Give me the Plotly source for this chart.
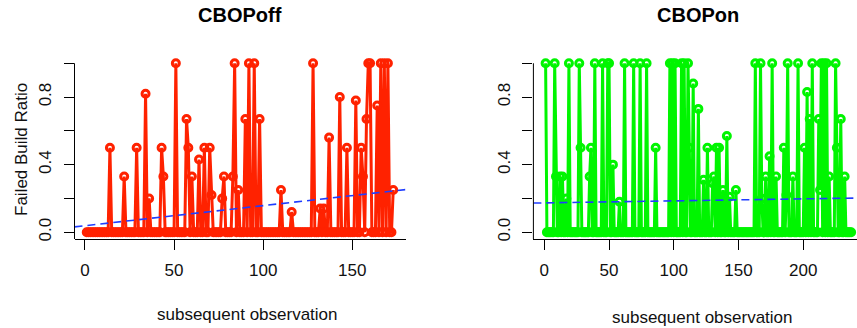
import numpy as np
import plotly.graph_objects as go

# ---------------- data ----------------
panel_titles = ["CBOPoff", "CBOPon"]
y_label = "Failed Build Ratio"
x_label = "subsequent observation"

# CBOPoff: observations 1..173
cbop_off = [
    0, 0, 0, 0, 0, 0, 0, 0, 0, 0,            # 1-10
    0, 0, 0, 0.5, 0, 0, 0, 0, 0, 0,          # 11-20
    0, 0.33, 0, 0, 0, 0, 0, 0, 0.5, 0,       # 21-30
    0, 0, 0, 0.82, 0, 0.2, 0, 0, 0, 0,       # 31-40
    0, 0, 0.5, 0.33, 0, 0, 0, 0, 0, 0,       # 41-50
    1.0, 0, 0, 0, 0, 0, 0.67, 0.5, 0, 0.33,  # 51-60
    0, 0, 0, 0.43, 0, 0, 0.5, 0, 0, 0.5,     # 61-70
    0.22, 0, 0, 0, 0, 0, 0.2, 0.33, 0, 0,    # 71-80
    0, 0, 0.33, 1.0, 0, 0.25, 0, 0, 0, 0.67, # 81-90
    0, 1.0, 0, 0, 1.0, 0, 0, 0.67, 0, 0,     # 91-100
    0, 0, 0, 0, 0, 0, 0, 0, 0, 0.25,         # 101-110
    0, 0, 0, 0, 0, 0.12, 0, 0, 0, 0,         # 111-120
    0, 0, 0, 0, 0, 0, 0, 1.0, 0, 0,          # 121-130
    0, 0.14, 0, 0.14, 0, 0, 0.56, 0, 0, 0,   # 131-140
    0, 0, 0.8, 0, 0, 0, 0.5, 0, 0, 0,        # 141-150
    0, 0.78, 0, 0, 0.5, 0.33, 0, 0.67, 1.0, 1.0,  # 151-160
    0, 0, 0, 0.75, 0, 1.0, 0, 1.0, 0, 1.0,   # 161-170
    0, 0, 0.25,                              # 171-173
]

# CBOPon: observations 1..237
cbop_on = [
    1.0, 0, 0, 0, 0, 0, 0, 1.0, 0.33, 0,     # 1-10
    0, 0.33, 0, 0.33, 0, 0, 0.2, 0, 1.0, 0,  # 11-20
    0, 0, 0, 0, 0, 0, 1.0, 0.5, 0, 0,        # 21-30
    0, 0, 0, 0, 0.33, 0.5, 0, 0, 1.0, 0,     # 31-40
    0, 0, 0, 0, 1.0, 0, 0, 0, 1.0, 1.0,      # 41-50
    0, 0, 0.4, 0, 0, 0, 0, 0.18, 0, 0,       # 51-60
    0, 1.0, 0, 0, 0, 0, 0, 0, 1.0, 0,        # 61-70
    0, 0, 0, 1.0, 0, 0, 0, 0, 1.0, 0,        # 71-80
    0, 0, 0, 0, 0, 0.5, 0, 0, 0, 0,          # 81-90
    0, 0, 0, 0, 0, 0, 1.0, 0, 1.0, 0,        # 91-100
    1.0, 0, 0, 0, 0, 1.0, 0, 1.0, 0, 0,      # 101-110
    1.0, 0.5, 0, 0, 0.88, 0, 0, 0, 0.73, 0,  # 111-120
    0, 0, 0.31, 0, 0, 0.5, 0, 0, 0, 0.29,    # 121-130
    0.33, 0, 0.5, 0, 0.5, 0, 0, 0.25, 0, 0,  # 131-140
    0.57, 0, 0.21, 0, 0, 0, 0, 0.25, 0, 0,   # 141-150
    0, 0, 0, 0, 0, 0, 0, 0, 0, 0,            # 151-160
    0, 0, 1.0, 0, 0, 0, 1.0, 0.2, 0, 0,      # 161-170
    0.33, 0, 0, 0.45, 0, 1.0, 0, 0, 0.33, 0, # 171-180
    0, 0, 0, 0, 0.5, 0, 0.22, 1.0, 0, 0,     # 181-190
    0, 0.33, 0, 0, 0, 1.0, 0, 0, 0, 0,       # 191-200
    0.5, 0, 0.83, 0, 0.67, 0, 1.0, 0, 0, 0,  # 201-210
    0, 0.67, 0.25, 1.0, 0, 1.0, 0, 1.0, 0, 0.33,  # 211-220
    0, 0, 0, 0, 1.0, 0.5, 0, 0, 0.67, 0,     # 221-230
    0, 0.33, 0, 0, 0, 0, 0,                  # 231-237
]

x_ticks_off = [0, 50, 100, 150]
x_ticks_on = [0, 50, 100, 150, 200]
y_tick_vals = [0, 0.2, 0.4, 0.6, 0.8, 1.0]
y_tick_text = ["0.0", "", "0.4", "", "0.8", ""]

# ---------------- styling ----------------
W, H = 857, 328
FONT = "Liberation Sans, Arial, Helvetica, sans-serif"
RED = "#ff2200"
GREEN = "#00f500"
BLUE = "#1f3dff"

def r_range(n):
    # R's default 4% extension of the data range
    lo, hi = 1, n
    pad = 0.04 * (hi - lo)
    return [lo - pad, hi + pad]

off_x = np.arange(1, len(cbop_off) + 1)
on_x = np.arange(1, len(cbop_on) + 1)

off_range = r_range(len(cbop_off))
on_full = r_range(len(cbop_on))
# the right panel is cut by the figure's right edge
on_dom = [533.4 / W, 1.0]
on_px_per_unit = 1.2945
on_range = [on_full[0], on_full[0] + (W - 533.4) / on_px_per_unit]
off_dom = [74.5 / W, 405.5 / W]
y_dom = [(H - 239) / H, (H - 56.5) / H]
y_range = [-0.04, 1.04]

fig = go.Figure()

def add_series(x, y, color, xa, ya):
    fig.add_trace(go.Scatter(
        x=x, y=y, mode="lines+markers", xaxis=xa, yaxis=ya,
        line=dict(color=color, width=3),
        marker=dict(symbol="circle-open", size=7, color=color,
                    line=dict(color=color, width=3)),
        showlegend=False, hoverinfo="x+y", cliponaxis=False,
    ))
    # least-squares trend line, drawn across the whole plot region
    slope, intercept = np.polyfit(x, y, 1)
    rng = off_range if xa == "x" else on_range
    xs = np.array(rng)
    fig.add_trace(go.Scatter(
        x=xs, y=intercept + slope * xs, mode="lines", xaxis=xa, yaxis=ya,
        line=dict(color=BLUE, width=1.6, dash="8px,5px"),
        showlegend=False, hoverinfo="skip",
    ))

add_series(off_x, cbop_off, RED, "x", "y")
add_series(on_x, cbop_on, GREEN, "x2", "y2")

axis_common = dict(
    showgrid=False, zeroline=False, ticks="outside", ticklen=10,
    tickwidth=1, tickcolor="black", automargin=False,
    tickfont=dict(family=FONT, size=17, color="#111"),
)

fig.update_layout(
    width=W, height=H,
    margin=dict(l=0, r=0, t=0, b=0, autoexpand=False),
    paper_bgcolor="white", plot_bgcolor="white",
    font=dict(family=FONT, color="black"),
    xaxis=dict(domain=off_dom, range=off_range, tickvals=x_ticks_off,
               showline=True, linecolor="black", linewidth=1,
               anchor="y", ticklabelstandoff=6, **axis_common),
    yaxis=dict(domain=y_dom, range=y_range, tickvals=y_tick_vals,
               ticktext=y_tick_text, tickangle=-90, showline=False,
               anchor="x", ticklabelstandoff=6, **axis_common),
    xaxis2=dict(domain=on_dom, range=on_range, tickvals=x_ticks_on,
                showline=True, linecolor="black", linewidth=1,
                anchor="y2", ticklabelstandoff=6, **axis_common),
    yaxis2=dict(domain=y_dom, range=y_range, tickvals=y_tick_vals,
                ticktext=y_tick_text, tickangle=-90, showline=False,
                anchor="x2", ticklabelstandoff=6, **axis_common),
)

# y axis lines from the bottom of the region to the top tick (as in R)
for xref, yref in (("x domain", "y"), ("x2 domain", "y2")):
    fig.add_shape(type="line", xref=xref, yref=yref, x0=0, x1=0,
                  y0=y_range[0], y1=y_tick_vals[-1],
                  line=dict(color="black", width=1))

def label(text, px, py, size, angle=0, color="#111"):
    fig.add_annotation(text=text, x=px / W, y=1 - py / H, textangle=angle,
                       xref="paper", yref="paper", showarrow=False,
                       xanchor="center", yanchor="middle",
                       font=dict(family=FONT, size=size, color=color))

# titles and axis labels
label("<b>%s</b>" % panel_titles[0], 240, 15, 20, color="black")
label("<b>%s</b>" % panel_titles[1], 698, 15, 20, color="black")
label(x_label, 247.5, 314, 17)
label(x_label, 702.5, 317, 17)
label(y_label, 21, 150, 17, angle=-90)

# remove the page's default body margin so the figure sits at the top-left
fig.write_html("out.html",
               config={"displayModeBar": False},
               post_script="document.body.style.margin='0';")
